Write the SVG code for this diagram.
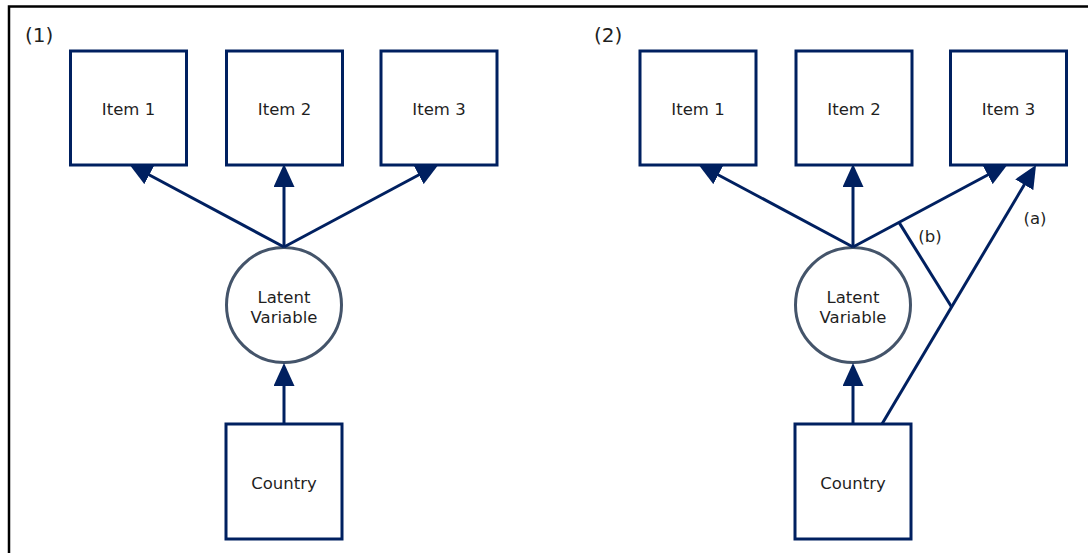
<svg xmlns="http://www.w3.org/2000/svg" width="1088" height="553" viewBox="0 0 1088 553">
<style>
.box{fill:#fff;stroke:#002060;stroke-width:3}
.lv{fill:#fff;stroke:#44546A;stroke-width:3}
.t{font-family:"DejaVu Sans",Verdana,sans-serif;font-size:16.5px;fill:#1f1f1f;text-anchor:middle}
.p{font-family:"DejaVu Sans",Verdana,sans-serif;font-size:20px;fill:#1f1f1f}
.c{stroke:#002060;stroke-width:3;fill:none}
.a{marker-end:url(#ah)}
</style>
<defs>
<marker id="ah" markerUnits="userSpaceOnUse" markerWidth="23" markerHeight="21" refX="11" refY="10.5" orient="auto">
<path d="M0,0 L23,10.5 L0,21 z" fill="#002060"/>
</marker>
</defs>
<rect width="1088" height="553" fill="#fff"/>
<path d="M9,553 V6.5 H1088" fill="none" stroke="#000" stroke-width="2.5"/>
<text class="p" x="25" y="42">(1)</text>
<text class="p" x="594" y="42">(2)</text>
<g id="p1-item1"><rect class="box" x="70.5" y="51" width="116" height="114"/><text class="t" x="128.5" y="115">Item 1</text></g>
<g id="p1-item2"><rect class="box" x="226.5" y="51" width="116" height="114"/><text class="t" x="284.5" y="115">Item 2</text></g>
<g id="p1-item3"><rect class="box" x="381" y="51" width="116" height="114"/><text class="t" x="439" y="115">Item 3</text></g>
<g id="p1-latent"><circle class="lv" cx="284" cy="305" r="57.5"/><text class="t" x="284" y="303">Latent</text><text class="t" x="284" y="323">Variable</text></g>
<g id="p1-country"><rect class="box" x="226" y="424" width="116" height="115"/><text class="t" x="284" y="489">Country</text></g>
<g id="p2-item1"><rect class="box" x="640" y="51" width="116" height="114"/><text class="t" x="698" y="115">Item 1</text></g>
<g id="p2-item2"><rect class="box" x="796" y="51" width="116" height="114"/><text class="t" x="854" y="115">Item 2</text></g>
<g id="p2-item3"><rect class="box" x="950.5" y="51" width="116" height="114"/><text class="t" x="1008.5" y="115">Item 3</text></g>
<g id="p2-latent"><circle class="lv" cx="853" cy="305" r="57.5"/><text class="t" x="853" y="303">Latent</text><text class="t" x="853" y="323">Variable</text></g>
<g id="p2-country"><rect class="box" x="795" y="424" width="116" height="115"/><text class="t" x="853" y="489">Country</text></g>
<g id="connectors">
<line class="c a" x1="284" y1="247" x2="139.6" y2="169.7"/>
<line class="c a" x1="284" y1="247" x2="284" y2="176"/>
<line class="c a" x1="284" y1="247" x2="428.4" y2="169.7"/>
<line class="c a" x1="284" y1="424" x2="284" y2="375"/>
<line class="c a" x1="853" y1="247" x2="708.6" y2="169.7"/>
<line class="c a" x1="853" y1="247" x2="853" y2="176"/>
<line class="c a" x1="853" y1="247" x2="997.4" y2="169.7"/>
<line class="c a" x1="853" y1="424" x2="853" y2="375"/>
<line class="c a" x1="882" y1="424" x2="1029.9" y2="175.3"/>
<line class="c" x1="899" y1="222.4" x2="951.6" y2="307"/>
<text class="t" x="930" y="242">(b)</text>
<text class="t" x="1035" y="224">(a)</text>
</g>
</svg>
